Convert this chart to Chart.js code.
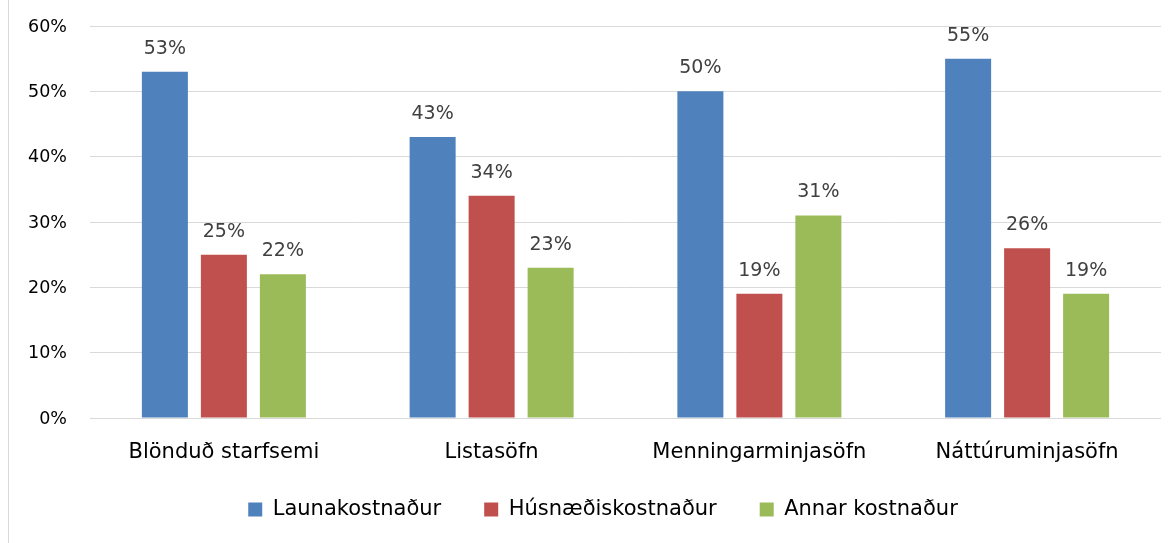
<!DOCTYPE html>
<html>
<head>
<meta charset="utf-8">
<script src="https://cdn.jsdelivr.net/npm/chart.js@4/dist/chart.umd.min.js"></script>
<style>
  html, body { margin: 0; padding: 0; background: #ffffff; }
  #wrap { position: relative; width: 1175px; height: 543px; }
  #frame { position: absolute; left: 8px; top: 0; width: 1px; height: 543px; background: #d9d9d9; }
  canvas { position: absolute; left: 0; top: 0; }
</style>
</head>
<body>
<div id="wrap">
  <canvas id="c" width="1175" height="543"></canvas>
  <div id="frame"></div>
</div>
<script>
const categories = ["Blönduð starfsemi", "Listasöfn", "Menningarminjasöfn", "Náttúruminjasöfn"];
const seriesNames = ["Launakostnaður", "Húsnæðiskostnaður", "Annar kostnaður"];
const launakostnadur = [53, 43, 50, 55];
const husnaediskostnadur = [25, 34, 19, 26];
const annarKostnadur = [22, 23, 31, 19];
const yTicks = [0, 10, 20, 30, 40, 50, 60];
const colors = ["#4f81bd", "#c0504d", "#9bbb59"];

const FONT = "'DejaVu Sans', sans-serif";

const dataLabels = {
  id: 'dataLabels',
  afterDatasetsDraw(chart) {
    const ctx = chart.ctx;
    ctx.save();
    ctx.font = "19px " + FONT;
    ctx.fillStyle = "#404040";
    ctx.textAlign = "center";
    ctx.textBaseline = "alphabetic";
    chart.data.datasets.forEach((ds, di) => {
      const meta = chart.getDatasetMeta(di);
      meta.data.forEach((bar, i) => {
        ctx.fillText(ds.data[i] + "%", bar.x, bar.y - 18);
      });
    });
    ctx.restore();
  }
};

// place the legend row as in the reference (slightly right of centre, a little higher)
const legendShift = {
  id: 'legendShift',
  afterLayout(chart) {
    const lg = chart.legend;
    if (lg) {
      lg.left += 45;
      lg.top -= 9;
      lg.bottom -= 9;
    }
  }
};

new Chart(document.getElementById('c'), {
  type: 'bar',
  data: {
    labels: categories,
    datasets: [
      { label: seriesNames[0], data: launakostnadur, backgroundColor: colors[0] },
      { label: seriesNames[1], data: husnaediskostnadur, backgroundColor: colors[1] },
      { label: seriesNames[2], data: annarKostnadur, backgroundColor: colors[2] }
    ]
  },
  options: {
    responsive: false,
    animation: false,
    devicePixelRatio: 1,
    categoryPercentage: 0.661,
    barPercentage: 0.78,
    layout: { padding: { left: 0, right: 14, top: 26, bottom: 4 } },
    scales: {
      x: {
        grid: { display: false, drawTicks: false },
        border: { display: false },
        ticks: { color: "#000000", padding: 22, font: { family: FONT, size: 21 } },
        afterFit(scale) { scale.height = 47; }
      },
      y: {
        min: 0,
        max: 60,
        afterBuildTicks(scale) { scale.ticks = yTicks.map(v => ({ value: v })); },
        grid: { color: "#d9d9d9", lineWidth: 1, drawTicks: true, tickLength: 20, tickColor: "rgba(0,0,0,0)" },
        border: { display: false },
        ticks: {
          color: "#000000",
          padding: 3,
          labelOffset: 1,
          font: { family: FONT, size: 17.5 },
          callback: v => v + "%"
        },
        afterFit(scale) { scale.width = 90; }
      }
    },
    plugins: {
      legend: {
        position: 'bottom',
        labels: {
          boxWidth: 14,
          boxHeight: 14,
          padding: 43,
          color: "#000000",
          font: { family: FONT, size: 21 }
        }
      },
      tooltip: { enabled: false }
    }
  },
  plugins: [dataLabels, legendShift]
});
</script>
</body>
</html>
